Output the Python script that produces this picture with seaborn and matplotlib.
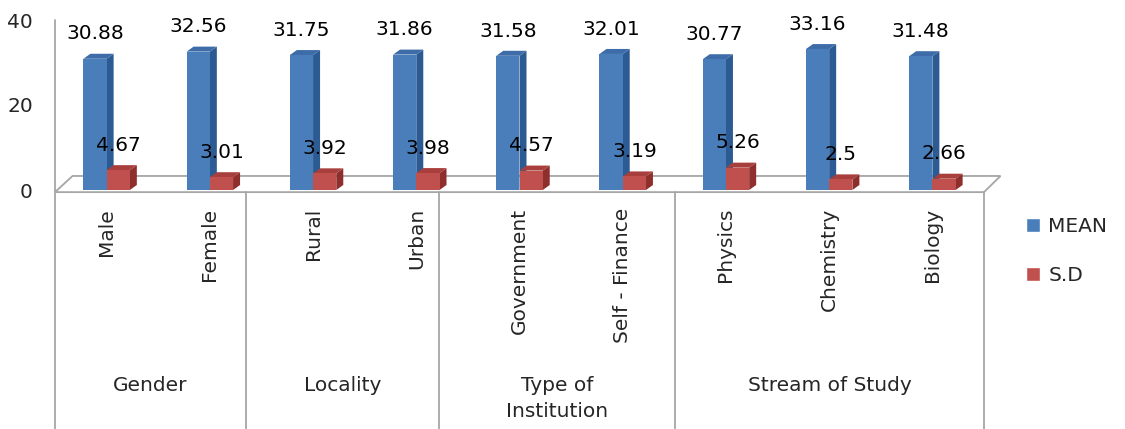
import numpy as np
import pandas as pd
import matplotlib
matplotlib.use("Agg")
import matplotlib.pyplot as plt
import seaborn as sns
from matplotlib.patches import Polygon
from matplotlib.lines import Line2D
import matplotlib.transforms as mtransforms

# data
categories = ["Male", "Female", "Rural", "Urban", "Government",
              "Self - Finance", "Physics", "Chemistry", "Biology"]
mean_vals = [30.88, 32.56, 31.75, 31.86, 31.58, 32.01, 30.77, 33.16, 31.48]
sd_vals = [4.67, 3.01, 3.92, 3.98, 4.57, 3.19, 5.26, 2.5, 2.66]
groups = ["Gender", "Locality", "Type of\nInstitution", "Stream of Study"]
series = ["MEAN", "S.D"]

df = pd.DataFrame({
    "category": categories * 2,
    "series": ["MEAN"] * len(categories) + ["S.D"] * len(categories),
    "value": mean_vals + sd_vals,
})

sns.set_style("white")
plt.rcParams["font.family"] = ["DejaVu Sans"]
FS = 14.5
GRID = "#a6a6a6"
front = {"MEAN": "#4a7ebb", "S.D": "#c0504d"}
side = {"MEAN": "#2c5a92", "S.D": "#8e2f2d"}
top = {"MEAN": "#3d6ca8", "S.D": "#a83f3c"}

fig = plt.figure(figsize=(11.25, 4.29), dpi=100)
# axes: x from px 55 to 984, y from px 190 (0) to px 20 (40)
ax = fig.add_axes([55 / 1125, (429 - 190) / 429, 929 / 1125, 170 / 429])

sns.barplot(data=df, x="category", y="value", hue="series", order=categories,
            hue_order=series, palette=front, width=0.45, dodge=True,
            saturation=1, ax=ax, legend=True, zorder=3)

ax.set_xlim(-0.5, 8.5)
ax.set_ylim(0, 40)
ax.set_xlabel("")
ax.set_ylabel("")
ax.set_xticks([])
ax.set_yticks([0, 20, 40])
ax.set_yticklabels(["0", "20", "40"], fontsize=FS)
ax.tick_params(axis="y", length=0, pad=16)
for s in ax.spines.values():
    s.set_visible(False)

# pseudo 3D faces on every bar
dx = 7 / 103.2
dy = 5 / 4.25
for name, cont in zip(series, ax.containers):
    z = 2.4 if name == "MEAN" else 2.6
    for bar in cont:
        x, w, h = bar.get_x(), bar.get_width(), bar.get_height()
        bar.set_edgecolor("none")
        ax.add_patch(Polygon([(x + w, 0), (x + w + dx, dy), (x + w + dx, h + dy), (x + w, h)],
                             closed=True, fc=side[name], ec="none", zorder=z, clip_on=False))
        ax.add_patch(Polygon([(x, h), (x + dx, h + dy), (x + w + dx, h + dy), (x + w, h)],
                             closed=True, fc=top[name], ec="none", zorder=z, clip_on=False))

# value labels
for name, cont, vals in zip(series, ax.containers, [mean_vals, sd_vals]):
    ax.bar_label(cont, labels=[f"{v:g}" for v in vals], padding=11,
                 fontsize=FS, color="black", zorder=5)

# floor of the 3D plot area
floor = Polygon([(-0.5, -0.5), (8.5, -0.5), (8.5 + 0.16, 3.3), (-0.5 + 0.17, 3.3)],
                closed=True, fc="white", ec=GRID, lw=1.3, zorder=1, clip_on=False)
ax.add_patch(floor)

trans = mtransforms.blended_transform_factory(ax.transData, ax.transAxes)
y_floor = -2 / 170
y_bottom = -(429 - 190) / 170

# left axis line and group dividers
edges = [-0.5, 1.35, 3.22, 5.51, 8.5]
ax.add_line(Line2D([-0.5, -0.5], [1.0, y_bottom], transform=trans, color=GRID,
                   lw=1.3, clip_on=False, zorder=1))
for e in edges[1:]:
    ax.add_line(Line2D([e, e], [y_floor, y_bottom], transform=trans, color=GRID,
                       lw=1.3, clip_on=False, zorder=1))

# category labels (rotated)
for i, c in enumerate(categories):
    ax.text(i, -18 / 170, c, rotation=90, ha="center", va="top", fontsize=FS,
            transform=trans, clip_on=False)

# group labels
for g, a, b in zip(groups, edges[:-1], edges[1:]):
    ax.text((a + b) / 2, -(376 - 190) / 170, g, ha="center", va="top",
            fontsize=FS, linespacing=1.45, transform=trans, clip_on=False)

handles, labels = ax.get_legend_handles_labels()
ax.legend(handles, labels, loc="center left", bbox_to_anchor=(1026 / 1125, 1 - 251 / 429),
          bbox_transform=fig.transFigure, frameon=False, fontsize=FS,
          handlelength=0.7, handleheight=0.7, handletextpad=0.4,
          labelspacing=1.5, borderpad=0, borderaxespad=0)

fig.savefig("out.png", dpi=100)
